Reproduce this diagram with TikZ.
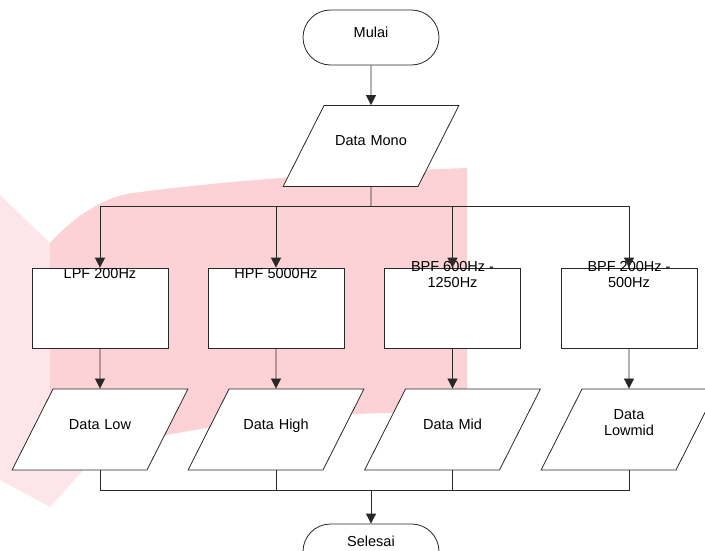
\documentclass[tikz,border=0pt]{standalone}
\usepackage{fontspec}
\setmainfont{Liberation Sans}
\usetikzlibrary{shapes.geometric,shapes.misc,arrows.meta}
\definecolor{wmdark}{RGB}{252,210,214}
\definecolor{wmlight}{RGB}{253,230,233}
\definecolor{linegray}{RGB}{40,40,40}

\begin{document}
\begin{tikzpicture}[x=1pt,y=-1pt,
  font=\fontsize{14.5}{16.5}\selectfont,
  every node/.style={draw=linegray, line width=0.8pt, fill=white, inner sep=0pt, align=center},
  term/.style={rounded rectangle, minimum width=136pt, minimum height=55pt, text height=8pt, text depth=8pt},
  io/.style={trapezium, trapezium left angle=63.2, trapezium right angle=116.8,
    text width=94pt, text height=40.5pt, text depth=40.5pt},
  filter/.style={rectangle, minimum width=136pt, minimum height=80.5pt, text height=10pt, text depth=70pt},
  line/.style={draw=linegray, line width=0.8pt},
  arrow/.style={line, -{Triangle[width=10pt,length=10pt]}}]
\useasboundingbox (0,0) rectangle (705,551);
% watermark
\fill[wmlight] (0,195) -- (50,243) -- (100,452) -- (50,507) -- (0,480) -- cycle;
\fill[wmdark] (50,243) .. controls (80,210) and (110,196) .. (133,193)
  .. controls (230,180) and (350,172) .. (467,168) -- (467,413)
  .. controls (350,410) and (200,420) .. (100,452) -- (50,440) -- cycle;

\node[term] (start) at (371,37.5) {Mulai};
\node[io] (mono) at (371,146) {Data Mono};
\node[filter] (lpf) at (100,308.3) {LPF 200Hz};
\node[filter] (hpf) at (276,308.3) {HPF 5000Hz};
\node[filter, text height=19.7pt, text depth=60.7pt] (bpfmid) at (452.5,308.3) {BPF 600Hz -\\1250Hz};
\node[filter, text height=19.7pt, text depth=60.7pt] (bpflowmid) at (629,308.3) {BPF 200Hz -\\500Hz};
\node[io] (low) at (100,429.5) {Data Low};
\node[io] (high) at (276,429.5) {Data High};
\node[io] (mid) at (452.5,429.5) {Data Mid};
\node[io, text height=30.2pt, text depth=50.8pt] (lowmid) at (629,429.5) {Data\\Lowmid};
\node[term, text depth=18.6pt] (finish) at (371,551.5) {Selesai};

\coordinate (split) at (371,206.6);
\coordinate (join) at (371,490.5);
\draw[arrow] (start) -- (mono);
\draw[line] (mono) -- (split);
\draw[arrow] (split) -| (lpf.north);
\draw[arrow] (split) -| (hpf.north);
\draw[arrow] (split) -| (bpfmid.north);
\draw[arrow] (split) -| (bpflowmid.north);
\draw[arrow] (lpf) -- (low);
\draw[arrow] (hpf) -- (high);
\draw[arrow] (bpfmid) -- (mid);
\draw[arrow] (bpflowmid) -- (lowmid);
\draw[line] (low.south) |- (join);
\draw[line] (high.south) |- (join);
\draw[line] (mid.south) |- (join);
\draw[line] (lowmid.south) |- (join);
\draw[arrow] (join) -- (finish);
\end{tikzpicture}
\end{document}
